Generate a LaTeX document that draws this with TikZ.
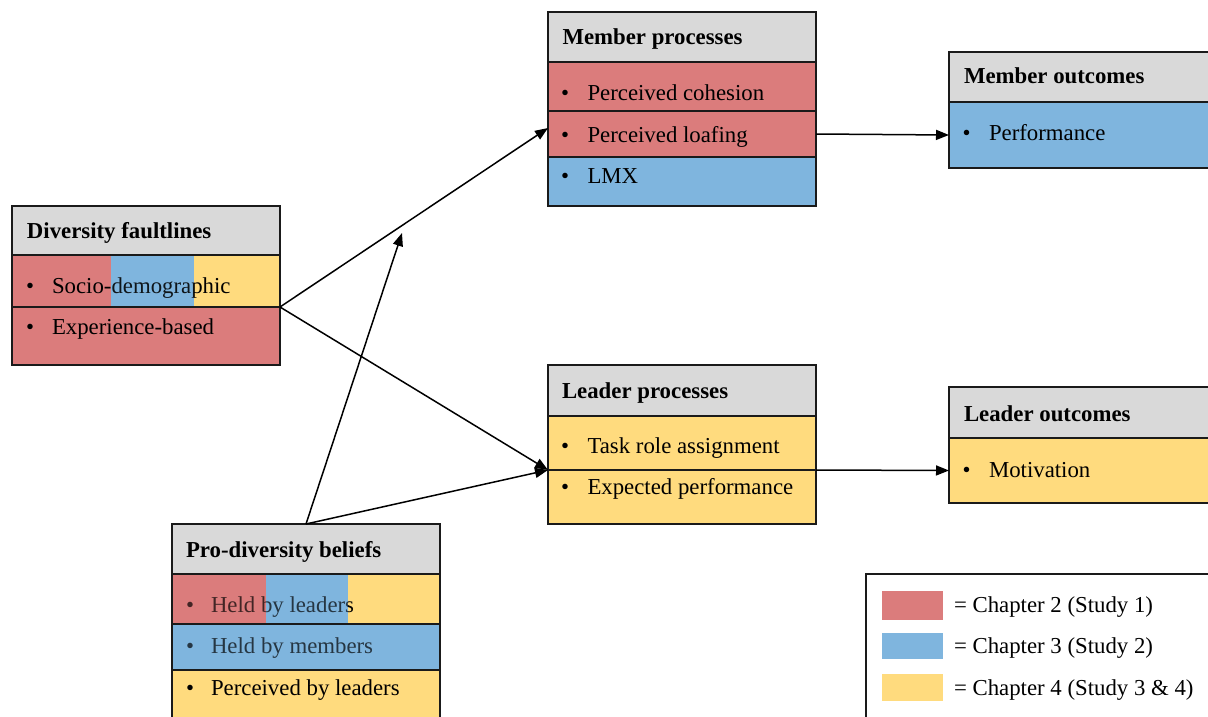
\documentclass[tikz,border=0pt]{standalone}
\usepackage{fontspec}
\setmainfont{Liberation Serif}
\usetikzlibrary{arrows.meta}
\definecolor{cred}{HTML}{DB7C7C}
\definecolor{cblue}{HTML}{7FB5DE}
\definecolor{cyel}{HTML}{FFDB7E}
\definecolor{cgray}{HTML}{D9D9D9}
\definecolor{cline}{HTML}{1A1A1A}
\begin{document}
\begin{tikzpicture}[x=1pt,y=-1pt,
  sec/.style={draw=cline, line width=1.5pt, rectangle, anchor=north west, inner sep=0pt, outer sep=0pt},
  seg/.style={rectangle, anchor=north west, inner sep=0pt, outer sep=0pt, draw=none},
  txt/.style={inner sep=0pt, outer sep=0pt, anchor=base west, font=\fontsize{22.8}{27}\selectfont},
  head/.style={txt, font=\fontsize{22.8}{27}\selectfont\bfseries},
  bul/.style={inner sep=0pt, outer sep=0pt, anchor=base, font=\fontsize{22.8}{27}\selectfont},
  conn/.style={draw=black, line width=1.5pt, -{Triangle[length=13pt,width=10pt]}}]
\useasboundingbox (0,0) rectangle (1208,717);
\fill[white] (0,0) rectangle (1208,717);

% ---------- Member processes ----------
\node[sec, fill=cgray, minimum width=268pt, minimum height=50pt] (mph) at (548,12) {};
\node[sec, fill=cred,  minimum width=268pt, minimum height=49pt] (mp1) at (548,62) {};
\node[sec, fill=cred,  minimum width=268pt, minimum height=46pt] (mp2) at (548,111) {};
\node[sec, fill=cblue, minimum width=268pt, minimum height=49pt] (mp3) at (548,157) {};
\node[head] (mpht) at (562.5,45) {Member processes};
\node[bul] (mpb1) at (565,100) {•};
\node[txt] (mpt1) at (587.5,100) {Perceived cohesion};
\node[bul] (mpb2) at (565,142) {•};
\node[txt] (mpt2) at (587.5,142) {Perceived loafing};
\node[bul] (mpb3) at (565,183) {•};
\node[txt] (mpt3) at (587.5,183) {LMX};

% ---------- Member outcomes ----------
\node[sec, fill=cgray, minimum width=271pt, minimum height=50pt] (moh) at (949,52) {};
\node[sec, fill=cblue, minimum width=271pt, minimum height=66pt] (mo1) at (949,102) {};
\node[head] (moht) at (964,84) {Member outcomes};
\node[bul] (mob1) at (966.5,140) {•};
\node[txt] (mot1) at (989,140) {Performance};

% ---------- Leader processes ----------
\node[sec, fill=cgray, minimum width=268pt, minimum height=51pt] (lph) at (548,365) {};
\node[sec, fill=cyel,  minimum width=268pt, minimum height=54pt] (lp1) at (548,416) {};
\node[sec, fill=cyel,  minimum width=268pt, minimum height=54pt] (lp2) at (548,470) {};
\node[head] (lpht) at (562,398) {Leader processes};
\node[bul] (lpb1) at (565,453) {•};
\node[txt] (lpt1) at (587.5,453) {Task role assignment};
\node[bul] (lpb2) at (565,494) {•};
\node[txt] (lpt2) at (587.5,494) {Expected performance};

% ---------- Leader outcomes ----------
\node[sec, fill=cgray, minimum width=271pt, minimum height=51pt] (loh) at (949,387) {};
\node[sec, fill=cyel,  minimum width=271pt, minimum height=65pt] (lo1) at (949,438) {};
\node[head] (loht) at (964,421) {Leader outcomes};
\node[bul] (lob1) at (966.5,477) {•};
\node[txt] (lot1) at (989,477) {Motivation};

% ---------- Diversity faultlines ----------
\node[sec, fill=cgray, minimum width=268pt, minimum height=49pt] (flh) at (12,206) {};
\node[seg, fill=cred,  minimum width=99pt, minimum height=52pt] (fl1a) at (12,255) {};
\node[seg, fill=cblue, minimum width=83pt, minimum height=52pt] (fl1b) at (111,255) {};
\node[seg, fill=cyel,  minimum width=86pt, minimum height=52pt] (fl1c) at (194,255) {};
\node[sec, fill=cred,  minimum width=268pt, minimum height=58pt] (fl2) at (12,307) {};
\node[head] (flht) at (27,238) {Diversity faultlines};
\node[bul] (flb1) at (30,293) {•};
\node[txt] (flt1) at (52,293) {Socio-demographic};
\node[bul] (flb2) at (30,334) {•};
\node[txt] (flt2) at (52,334) {Experience-based};
\node[seg, fill=cblue, fill opacity=0.12, minimum width=83pt, minimum height=52pt] (fl1bo) at (111,255) {};
\node[sec, minimum width=268pt, minimum height=52pt] (fl1) at (12,255) {};

% ---------- Pro-diversity beliefs ----------
\node[sec, fill=cgray, minimum width=268pt, minimum height=50pt] (pdh) at (172,524) {};
\node[seg, fill=cred,  minimum width=94pt, minimum height=50pt] (pd1a) at (172,574) {};
\node[seg, fill=cblue, minimum width=82pt, minimum height=50pt] (pd1b) at (266,574) {};
\node[seg, fill=cyel,  minimum width=92pt, minimum height=50pt] (pd1c) at (348,574) {};
\node[seg, fill=cblue, minimum width=268pt, minimum height=46pt] (pd2f) at (172,624) {};
\node[sec, fill=cyel,  minimum width=268pt, minimum height=60pt] (pd3) at (172,670) {};
\node[head] (pdht) at (186,557) {Pro-diversity beliefs};
\node[bul] (pdb1) at (190,612) {•};
\node[txt] (pdt1) at (211,612) {Held by leaders};
\node[bul] (pdb2) at (190,653) {•};
\node[txt] (pdt2) at (211,653) {Held by members};
\node[bul] (pdb3) at (190,695) {•};
\node[txt] (pdt3) at (211,695) {Perceived by leaders};
\node[seg, fill=cred,  fill opacity=0.3, minimum width=94pt, minimum height=50pt] (pd1ao) at (172,574) {};
\node[seg, fill=cblue, fill opacity=0.3, minimum width=82pt, minimum height=50pt] (pd1bo) at (266,574) {};
\node[seg, fill=cblue, fill opacity=0.3, minimum width=268pt, minimum height=46pt] (pd2o) at (172,624) {};
\node[sec, minimum width=268pt, minimum height=50pt] (pd1) at (172,574) {};
\node[sec, minimum width=268pt, minimum height=46pt] (pd2) at (172,624) {};

% ---------- Legend ----------
\node[sec, fill=white, minimum width=354pt, minimum height=156pt] (lg) at (866,574) {};
\node[seg, fill=cred,  minimum width=61pt, minimum height=29pt] (lgs1) at (882,591) {};
\node[seg, fill=cblue, minimum width=61pt, minimum height=26pt] (lgs2) at (882,633) {};
\node[seg, fill=cyel,  minimum width=61pt, minimum height=27pt] (lgs3) at (882,674) {};
\node[txt] (lgt1) at (954,612) {= Chapter 2 (Study 1)};
\node[txt] (lgt2) at (954,653) {= Chapter 3 (Study 2)};
\node[txt] (lgt3) at (954,695) {= Chapter 4 (Study 3 \& 4)};

% ---------- Connectors ----------
\coordinate (mpin) at (548,128);
\coordinate (mid) at (402,233);
\draw[conn] (fl1.south east) -- (mpin);
\draw[conn] (fl1.south east) -- (lp1.south west);
\draw[conn] (pdh.north) -- (mid);
\draw[conn] (pdh.north) -- (lp1.south west);
\draw[conn] (mp2.east) -- (mo1.west);
\draw[conn] (lp1.south east) -- (lo1.west);
\end{tikzpicture}
\end{document}
